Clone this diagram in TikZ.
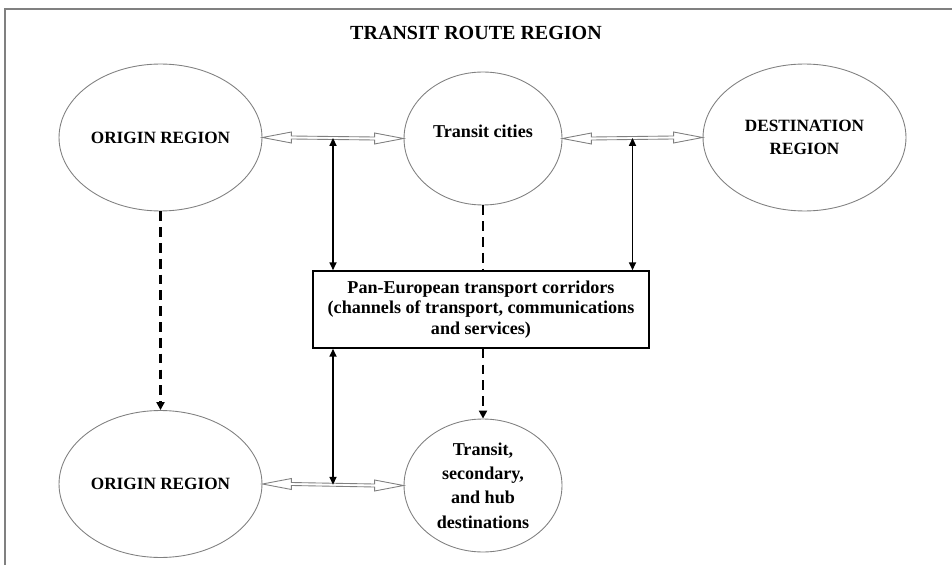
\documentclass[tikz,border=0pt]{standalone}
\usepackage{fontspec}
\setmainfont{Liberation Serif}
\usetikzlibrary{arrows.meta,calc,shapes.geometric}

\newcommand{\hollowpair}[2]{%
\draw[hollow] (#1) -- ++(29,5.5) -- ++(0,-4) -- ($(#2)+(-29,1.5)$) -- ++(0,4) -- (#2) -- ++(-29,-5.5) -- ++(0,4) -- ($(#1)+(29,-1.5)$) -- ++(0,-4) -- cycle;}

\begin{document}
\begin{tikzpicture}[x=0.02cm,y=0.02cm,
region/.style={ellipse,draw=gray,line width=0.5pt,inner sep=0pt,minimum width=4.06cm,minimum height=2.94cm,align=center,font=\bfseries\fontsize{9.8}{13.5}\selectfont},
city/.style={region,minimum width=3.16cm,minimum height=2.66cm,font=\bfseries\fontsize{10.3}{13.8}\selectfont},
corridor/.style={draw,line width=0.9pt,minimum width=6.72cm,minimum height=1.54cm,inner sep=0pt,align=center,font=\bfseries\fontsize{10.3}{11.6}\selectfont},
hollow/.style={draw=gray,line width=0.5pt,fill=white},
link/.style={line width=0.9pt,{Triangle[length=4.5pt,width=4pt]}-{Triangle[length=4.5pt,width=4pt]}},
flow/.style={line width=1.6pt,dash pattern=on 5.5pt off 3.5pt,-{Triangle[length=4.5pt,width=4.5pt]}}]

\useasboundingbox (0,0) rectangle (952,565);
\draw[gray,line width=1pt] (5,0) -- (5,556) -- (952,556);

\node[font=\bfseries\fontsize{11.4}{13}\selectfont] (title) at (476,532) {TRANSIT ROUTE REGION};

\node[region] (orig1) at (160.5,427.5) {ORIGIN REGION};
\node[city,text height=7pt,text depth=8pt] (trans) at (483,426.5) {Transit cities};
\node[region] (dest) at (804.5,427.5) {DESTINATION\\REGION};
\node[corridor] (corr) at (481,255.5) {Pan-European transport corridors\\(channels of transport, communications\\and services)};
\node[region] (orig2) at (160.5,81) {ORIGIN REGION};
\node[city] (hub) at (483,79.5) {Transit,\\secondary,\\and hub\\destinations};

\hollowpair{orig1.east}{trans.west}
\hollowpair{trans.east}{dest.west}
\hollowpair{orig2.east}{hub.west}

\foreach \a/\b/\m in {orig1/trans/m1, trans/dest/m2, orig2/hub/m3}
{
\coordinate (\m) at ($(\a.east)!0.5!(\b.west)$);
}

\draw[link] (m1) -- (m1 |- corr.north);
\draw[link] (m2) -- (m2 |- corr.north);
\draw[link] (m3 |- corr.south) -- (m3);

\draw[flow] (orig1.south) -- (orig2.north);
\draw[flow,-] (trans.south) -- (trans.south |- corr.north);
\draw[flow] (hub.north |- corr.south) -- (hub.north);
\end{tikzpicture}
\end{document}
